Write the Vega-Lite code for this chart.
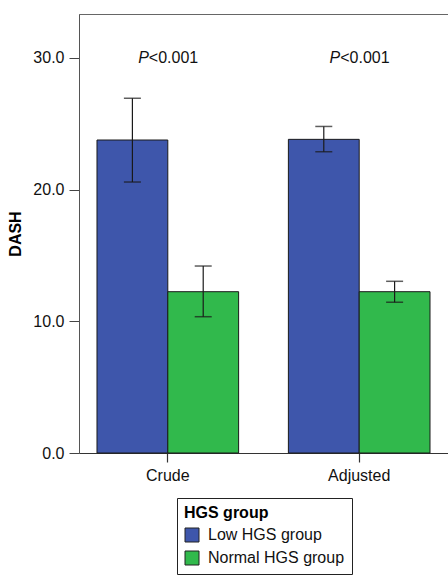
{
  "$schema": "https://vega.github.io/schema/vega-lite/v6.json",
  "autosize": {"type": "none"},
  "padding": {"left": 79, "top": 14, "right": 0, "bottom": 123},
  "width": 369,
  "height": 439,
  "background": "white",
  "config": {
    "font": "Liberation Sans",
    "view": {"stroke": "#666666", "strokeWidth": 1}
  },
  "data": {
    "values": [
      {"group": "Crude", "hgs": "Low HGS group", "mean": 23.77, "lo": 20.58, "hi": 26.94},
      {"group": "Crude", "hgs": "Normal HGS group", "mean": 12.25, "lo": 10.35, "hi": 14.2},
      {"group": "Adjusted", "hgs": "Low HGS group", "mean": 23.82, "lo": 22.88, "hi": 24.8},
      {"group": "Adjusted", "hgs": "Normal HGS group", "mean": 12.25, "lo": 11.45, "hi": 13.04}
    ]
  },
  "encoding": {
    "x": {
      "field": "group", "type": "nominal", "sort": null,
      "scale": {"paddingInner": 0.26, "paddingOuter": 0.094},
      "axis": {
        "title": null, "labelAngle": 0, "labelFontSize": 16, "labelColor": "#111111",
        "labelPadding": 5, "tickSize": 9, "tickColor": "#333333", "domainColor": "#333333",
        "domainWidth": 1.2, "tickWidth": 1.2
      }
    },
    "xOffset": {
      "field": "hgs", "type": "nominal", "sort": null,
      "scale": {"paddingInner": 0, "paddingOuter": 0}
    }
  },
  "layer": [
    {
      "mark": {"type": "bar", "stroke": "#1a1a1a", "strokeWidth": 1, "opacity": 1},
      "encoding": {
        "y": {
          "field": "mean", "type": "quantitative",
          "scale": {"domain": [0, 33.34], "nice": false, "zero": true},
          "axis": {
            "title": "DASH", "titleFontSize": 16, "titleFontWeight": "bold", "titleColor": "#000000",
            "titlePadding": 9, "values": [0, 10, 20, 30], "format": ".1f",
            "labelFontSize": 16, "labelColor": "#111111", "labelPadding": 5,
            "tickSize": 10, "tickColor": "#444444", "domainColor": "#555555",
            "grid": false
          }
        },
        "color": {
          "field": "hgs", "type": "nominal", "sort": null,
          "scale": {"domain": ["Low HGS group", "Normal HGS group"], "range": ["#3E56AB", "#31B94C"]},
          "legend": {
            "title": "HGS group", "orient": "none", "legendX": 98, "legendY": 484,
            "titleFontSize": 16, "titleFontWeight": "bold", "titleColor": "#000000",
            "labelFontSize": 16, "labelColor": "#111111", "labelOffset": 8,
            "symbolType": "square", "symbolSize": 196, "symbolStrokeColor": "#222222",
            "symbolStrokeWidth": 1, "symbolOpacity": 1,
            "strokeColor": "#222222", "padding": 7, "rowPadding": 5, "titlePadding": 6,
            "fillColor": "white"
          }
        }
      }
    },
    {
      "mark": {"type": "rule", "color": "#1a1a1a", "strokeWidth": 1.2},
      "encoding": {
        "y": {"field": "lo", "type": "quantitative"},
        "y2": {"field": "hi"}
      }
    },
    {
      "mark": {"type": "tick", "color": "#1a1a1a", "thickness": 1.5, "size": 17, "orient": "horizontal"},
      "encoding": {"y": {"field": "lo", "type": "quantitative"}}
    },
    {
      "mark": {"type": "tick", "color": "#1a1a1a", "thickness": 1.5, "size": 17, "orient": "horizontal"},
      "encoding": {"y": {"field": "hi", "type": "quantitative"}}
    },
    {
      "data": {"values": [{"group": "Crude", "ty": 30, "p": "P", "rest": "<0.001"}, {"group": "Adjusted", "ty": 30, "p": "P", "rest": "<0.001"}]},
      "mark": {"type": "text", "fontStyle": "italic", "fontSize": 16, "align": "right", "baseline": "middle", "dx": -19, "color": "#111111"},
      "encoding": {
        "x": {"field": "group", "type": "nominal", "sort": null},
        "xOffset": null,
        "y": {"field": "ty", "type": "quantitative"},
        "text": {"field": "p"}
      }
    },
    {
      "data": {"values": [{"group": "Crude", "ty": 30, "p": "P", "rest": "<0.001"}, {"group": "Adjusted", "ty": 30, "p": "P", "rest": "<0.001"}]},
      "mark": {"type": "text", "fontSize": 16, "align": "left", "baseline": "middle", "dx": -19, "color": "#111111"},
      "encoding": {
        "x": {"field": "group", "type": "nominal", "sort": null},
        "xOffset": null,
        "y": {"field": "ty", "type": "quantitative"},
        "text": {"field": "rest"}
      }
    }
  ]
}
